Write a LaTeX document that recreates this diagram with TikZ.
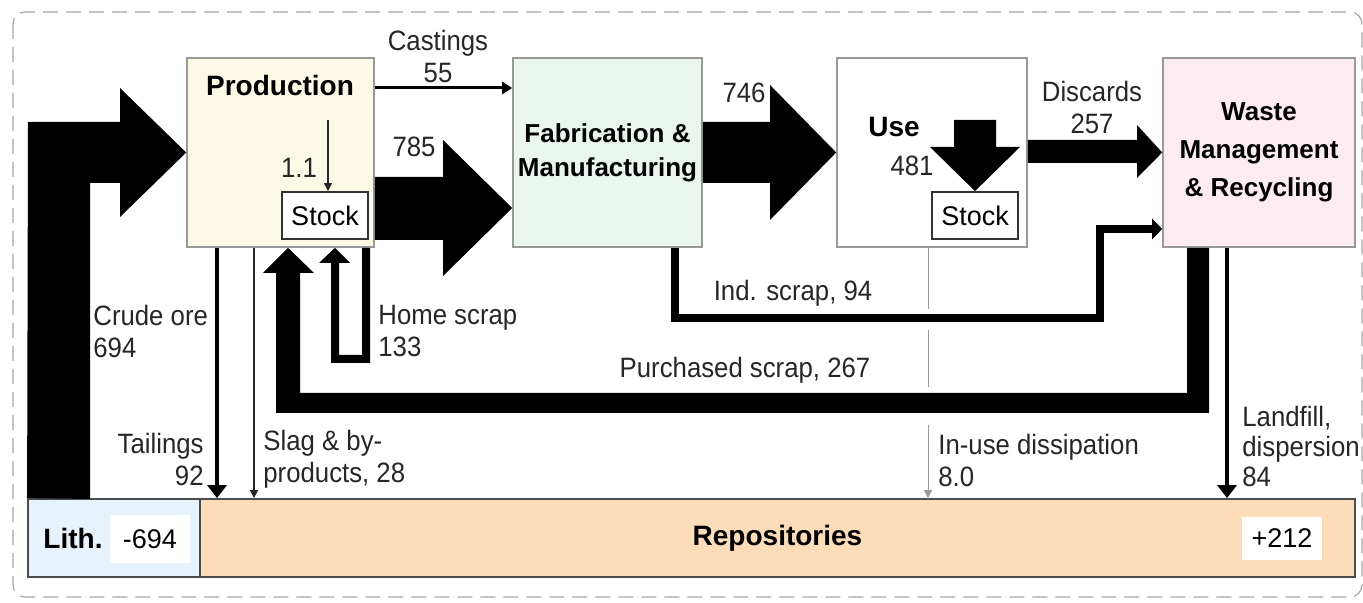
\documentclass[tikz,border=0pt]{standalone}
\usepackage{fontspec}
\setmainfont{Liberation Sans}
\newfontfamily\flowfont{Liberation Sans}[FakeStretch=0.92]
\usepackage{tikz}
\usetikzlibrary{arrows.meta, positioning}

\definecolor{prodfill}{RGB}{252,250,230}
\definecolor{fabfill}{RGB}{234,245,238}
\definecolor{wastefill}{RGB}{252,236,241}
\definecolor{repofill}{RGB}{253,220,186}
\definecolor{lithfill}{RGB}{231,243,252}

\begin{document}
\begin{tikzpicture}[
  x=0.5pt, y=-0.5pt,
  box/.style={draw=gray!80, line width=0.8pt, minimum width=#1, minimum height=94.5pt,
              inner sep=0pt, align=center},
  boxtitle/.style={font=\bfseries\fontsize{14}{16}\selectfont, inner sep=0pt},
  stockbox/.style={draw=black!80, fill=white, line width=0.9pt, minimum width=43pt,
                   minimum height=23.5pt, inner sep=0pt, font=\fontsize{13.5}{16}\selectfont},
  valbox/.style={fill=white, minimum width=40pt, minimum height=#1, inner sep=0pt,
                 font=\fontsize{13.5}{16}\selectfont},
  flowlbl/.style={font=\flowfont\fontsize{14}{16}\selectfont, inner sep=0pt, text=black!85},
  fat/.style={fill=black},
  thinflow/.style={draw=black!85, line width=0.6pt, -{Triangle[length=4pt,width=4pt]}},
  flow/.style={line width=1.5pt, -{Triangle[length=5pt,width=6pt]}},
  thickflow/.style={line width=2.3pt, -{Triangle[length=6.5pt,width=9.5pt]}},
  ]
  \useasboundingbox (0,0) rectangle (1363,603);

  % --- outer system boundary ---
  \draw[gray!70, line width=0.6pt, dash pattern=on 7.5pt off 4pt, rounded corners=6pt]
    (13,12) rectangle (1362,597);

  % --- processes ---
  \node[box=93.5pt, fill=prodfill] (prod) at (280.5,152.5) {};
  \node[boxtitle] (prodtitle) at (280,85) {Production};
  \node[stockbox] (prodstock) at (325,215.5) {Stock};

  \node[box=94.5pt, fill=fabfill, font=\bfseries\fontsize{13}{17}\selectfont]
    (fab) at (607.5,152.5) {Fabrication \&\\Manufacturing};

  \node[box=95pt, fill=white] (use) at (932,152.5) {};
  \node[boxtitle] (usetitle) at (894,127) {Use};
  \node[stockbox] (usestock) at (975,215.5) {Stock};

  \node[box=96pt, fill=wastefill, font=\bfseries\fontsize{13}{19}\selectfont]
    (waste) at (1259,152.5) {Waste\\Management\\\& Recycling};

  % --- environment: lithosphere and repositories ---
  \node[draw=black!70, line width=0.9pt, fill=lithfill, minimum width=86pt, minimum height=39pt,
        inner sep=0pt] (lith) at (114,538) {};
  \node[draw=black!70, line width=0.9pt, fill=repofill, minimum width=577.5pt, minimum height=39pt,
        inner sep=0pt, font=\bfseries\fontsize{14}{16}\selectfont] (repo) at (777.5,538) {Repositories};
  \node[boxtitle] (lithtitle) at (73,538) {Lith.};
  \node[valbox=24pt] (lithval) at (150,539) {-694};
  \node[valbox=21.5pt] (repoval) at (1282,538.5) {+212};

  % --- crude ore: lithosphere -> production ---
  \fill[fat] (lith.north west) -- (28,122) -- (120,122) -- (120,88) -- (prod.west)
    -- (120,217) -- (120,183) -- (90,183) -- (90,499) -- cycle;
  \node[flowlbl, anchor=west, align=left] (orelbl) at (93,331) {Crude ore\\694};

  % --- production -> fabrication ---
  \draw[flow] (prod.east |- 0,88) -- (fab.west |- 0,88);
  \node[flowlbl, align=center] (castlbl) at (438,56) {Castings\\55};
  \fill[fat] (prod.east |- 0,177) -- (443,177) -- (443,140) -- (fab.west |- 0,208)
    -- (443,276) -- (443,240) -- (prod.east |- 0,240) -- cycle;
  \node[flowlbl] (lbl785) at (414,147) {785};

  % --- into production stock ---
  \coordinate (p11) at (328,120);
  \draw[thinflow] (p11) -- (p11 |- prodstock.north);
  \node[flowlbl] (lbl11) at (299,168) {1.1};

  % --- fabrication -> use ---
  \fill[fat] (fab.east |- 0,122) -- (770,122) -- (770,85) -- (use.west)
    -- (770,220) -- (770,183) -- (fab.east |- 0,183) -- cycle;
  \node[flowlbl] (lbl746) at (744,93) {746};

  % --- into use stock ---
  \fill[fat] (954,120) -- (996,120) -- (996,147) -- (1020,147) -- (usestock.north)
    -- (930,147) -- (954,147) -- cycle;
  \node[flowlbl] (lbl481) at (912,166) {481};

  % --- use -> waste management ---
  \fill[fat] (use.east |- 0,140) -- (1137,140) -- (1137,125) -- (waste.west)
    -- (1137,178) -- (1137,163) -- (use.east |- 0,163) -- cycle;
  \node[flowlbl, align=center] (disclbl) at (1092,107) {Discards\\257};

  % --- in-use dissipation (gaps where scrap flows cross) ---
  \draw[gray!80, line width=0.5pt, -{Triangle[length=4pt,width=4pt]}]
    (use.south -| 928,0) -- (repo.north -| 928,0);
  \fill[white] (922,309) rectangle (934,330);
  \fill[white] (922,387) rectangle (934,425);
  \node[flowlbl, anchor=west, align=left] (disslbl) at (938,460) {In-use dissipation\\8.0};

  % --- industrial scrap: fabrication -> waste management ---
  \draw[line width=4pt, -{Triangle[length=5pt,width=10pt]}]
    (fab.south -| 675,0) -- (675,318) -- (1100,318) -- (1100,229) -- (waste.west |- 0,229);
  \node[flowlbl] (indlbl) at (793,293) {Ind. scrap, 94};

  % --- purchased scrap: waste management -> production ---
  \fill[fat] (waste.south -| 1209,0) -- (1209,413) -- (276,413) -- (276,273) -- (263,273)
    -- (prod.south -| 288,0) -- (314,273) -- (300,273) -- (300,393) -- (1187,393)
    -- (waste.south -| 1187,0) -- cycle;
  \node[flowlbl] (purchlbl) at (745,370) {Purchased scrap, 267};

  % --- home scrap loop ---
  \fill[fat] (prod.south -| 370,0) -- (370,363) -- (331,363) -- (331,263) -- (319,263)
    -- (prod.south -| 335,0) -- (350,263) -- (339,263) -- (339,355) -- (362,355)
    -- (prod.south -| 362,0) -- cycle;
  \node[flowlbl, anchor=west, align=left] (homelbl) at (378,331) {Home scrap\\133};

  % --- losses to repositories ---
  \draw[thickflow] (prod.south -| 217,0) -- (repo.north -| 217,0);
  \node[flowlbl, anchor=east, align=right] (taillbl) at (204,459) {Tailings\\92};
  \draw[thinflow] (prod.south -| 254,0) -- (repo.north -| 254,0);
  \node[flowlbl, anchor=west, align=left] (slaglbl) at (263,459) {Slag \& by-\\products, 28};
  \draw[thickflow] (waste.south -| 1227,0) -- (repo.north -| 1227,0);
  \node[flowlbl, anchor=west, align=left, font=\flowfont\fontsize{14}{15}\selectfont]
    (landlbl) at (1242,446) {Landfill,\\dispersion\\84};

\end{tikzpicture}
\end{document}
